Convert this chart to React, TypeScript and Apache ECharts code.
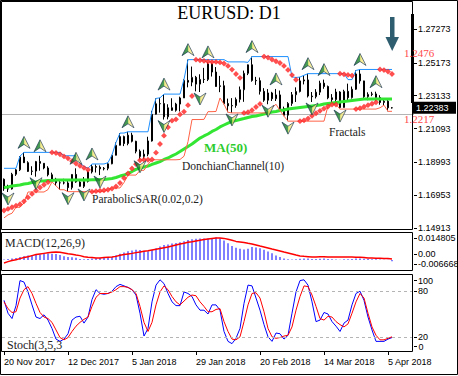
import React, { useEffect, useRef } from 'react';
import * as echarts from 'echarts';

const dates = [
  '20 Nov 2017','21 Nov 2017','22 Nov 2017','23 Nov 2017','24 Nov 2017','27 Nov 2017','28 Nov 2017','29 Nov 2017','30 Nov 2017',
  '1 Dec 2017','4 Dec 2017','5 Dec 2017','6 Dec 2017','7 Dec 2017','8 Dec 2017','11 Dec 2017','12 Dec 2017','13 Dec 2017','14 Dec 2017','15 Dec 2017','18 Dec 2017','19 Dec 2017','20 Dec 2017','21 Dec 2017','22 Dec 2017','26 Dec 2017','27 Dec 2017','28 Dec 2017','29 Dec 2017',
  '2 Jan 2018','3 Jan 2018','4 Jan 2018','5 Jan 2018','8 Jan 2018','9 Jan 2018','10 Jan 2018','11 Jan 2018','12 Jan 2018','15 Jan 2018','16 Jan 2018','17 Jan 2018','18 Jan 2018','19 Jan 2018','22 Jan 2018','23 Jan 2018','24 Jan 2018','25 Jan 2018','26 Jan 2018','29 Jan 2018','30 Jan 2018','31 Jan 2018',
  '1 Feb 2018','2 Feb 2018','5 Feb 2018','6 Feb 2018','7 Feb 2018','8 Feb 2018','9 Feb 2018','12 Feb 2018','13 Feb 2018','14 Feb 2018','15 Feb 2018','16 Feb 2018','19 Feb 2018','20 Feb 2018','21 Feb 2018','22 Feb 2018','23 Feb 2018','26 Feb 2018','27 Feb 2018','28 Feb 2018',
  '1 Mar 2018','2 Mar 2018','5 Mar 2018','6 Mar 2018','7 Mar 2018','8 Mar 2018','9 Mar 2018','12 Mar 2018','13 Mar 2018','14 Mar 2018','15 Mar 2018','16 Mar 2018','19 Mar 2018','20 Mar 2018','21 Mar 2018','22 Mar 2018','23 Mar 2018','26 Mar 2018','27 Mar 2018','28 Mar 2018','29 Mar 2018','30 Mar 2018',
  '2 Apr 2018','3 Apr 2018','4 Apr 2018','5 Apr 2018','6 Apr 2018'
];
// empty slots on the right (chart shift)
const padSlots = [' ', '  ', '   ', '    ', '     '];
const categories = dates.concat(padSlots);

const opens = [
  1.1794,1.1735,1.1734,1.1825,1.1853,1.1932,1.1897,1.1843,1.1845,1.1904,
  1.1893,1.1864,1.1822,1.1794,1.1772,1.1772,1.1771,1.1742,1.1824,1.1777,
  1.1750,1.1781,1.1840,1.1873,1.1869,1.1859,1.1862,1.1890,1.1943,1.2005,
  1.2059,1.2016,1.2068,1.2030,1.1968,1.1936,1.1950,1.2032,1.2198,1.2263,
  1.2264,1.2182,1.2238,1.2222,1.2261,1.2299,1.2408,1.2397,1.2427,1.2385,
  1.2414,1.2414,1.2510,1.2460,1.2370,1.2375,1.2264,1.2250,1.2252,1.2290,
  1.2350,1.2452,1.2505,1.2408,1.2406,1.2340,1.2285,1.2330,1.2294,1.2318,
  1.2233,1.2192,1.2265,1.2319,1.2339,1.2405,1.2411,1.2311,1.2307,1.2335,
  1.2391,1.2370,1.2300,1.2289,1.2336,1.2240,1.2340,1.2301,1.2353,1.2448,
  1.2405,1.2307,1.2321,1.2324,1.2302,1.2271,1.2279,1.2238
];
const highs = [
  1.1799,1.1760,1.1834,1.1858,1.1938,1.1961,1.1906,1.1875,1.1908,1.1940,
  1.1893,1.1875,1.1835,1.1803,1.1789,1.1797,1.1786,1.1826,1.1862,1.1792,
  1.1808,1.1850,1.1889,1.1887,1.1880,1.1870,1.1897,1.1945,1.2023,1.2081,
  1.2065,1.2089,1.2083,1.2033,1.1979,1.1978,1.2058,1.2219,1.2296,1.2300,
  1.2323,1.2260,1.2297,1.2269,1.2307,1.2415,1.2537,1.2494,1.2436,1.2446,
  1.2486,1.2523,1.2520,1.2491,1.2436,1.2406,1.2295,1.2298,1.2302,1.2370,
  1.2469,1.2507,1.2556,1.2430,1.2426,1.2360,1.2354,1.2337,1.2355,1.2345,
  1.2245,1.2273,1.2336,1.2365,1.2429,1.2440,1.2450,1.2336,1.2354,1.2406,
  1.2413,1.2376,1.2323,1.2356,1.2341,1.2350,1.2388,1.2370,1.2470,1.2476,
  1.2406,1.2334,1.2337,1.2338,1.2316,1.2292,1.2295,1.2242
];
const lows = [
  1.1722,1.1715,1.1730,1.1815,1.1845,1.1895,1.1840,1.1820,1.1810,1.1847,
  1.1856,1.1812,1.1778,1.1753,1.1729,1.1762,1.1717,1.1730,1.1772,1.1748,
  1.1740,1.1774,1.1830,1.1836,1.1820,1.1849,1.1850,1.1887,1.1942,1.2004,
  1.2000,1.2005,1.2023,1.1955,1.1915,1.1917,1.1937,1.2028,1.2196,1.2208,
  1.2165,1.2166,1.2220,1.2214,1.2215,1.2299,1.2365,1.2372,1.2340,1.2336,
  1.2392,1.2404,1.2432,1.2369,1.2335,1.2260,1.2210,1.2206,1.2238,1.2271,
  1.2275,1.2441,1.2400,1.2380,1.2320,1.2275,1.2260,1.2280,1.2280,1.2220,
  1.2186,1.2155,1.2250,1.2274,1.2333,1.2383,1.2302,1.2274,1.2296,1.2317,
  1.2356,1.2291,1.2258,1.2261,1.2230,1.2238,1.2281,1.2295,1.2349,1.2388,
  1.2298,1.2285,1.2310,1.2283,1.2257,1.2254,1.2216,1.2233
];
const closes = [
  1.1735,1.1734,1.1825,1.1853,1.1932,1.1897,1.1843,1.1845,1.1904,1.1893,
  1.1864,1.1822,1.1794,1.1772,1.1772,1.1771,1.1742,1.1824,1.1777,1.1750,
  1.1781,1.1840,1.1873,1.1869,1.1859,1.1862,1.1890,1.1943,1.2005,1.2059,
  1.2016,1.2068,1.2030,1.1968,1.1936,1.1950,1.2032,1.2198,1.2263,1.2264,
  1.2182,1.2238,1.2222,1.2261,1.2299,1.2408,1.2397,1.2427,1.2385,1.2414,
  1.2414,1.2510,1.2460,1.2370,1.2375,1.2264,1.2250,1.2252,1.2290,1.2350,
  1.2452,1.2505,1.2408,1.2406,1.2340,1.2285,1.2330,1.2294,1.2318,1.2233,
  1.2192,1.2265,1.2319,1.2339,1.2405,1.2411,1.2311,1.2307,1.2335,1.2391,
  1.2370,1.2300,1.2289,1.2336,1.2240,1.2340,1.2301,1.2353,1.2448,1.2405,
  1.2307,1.2321,1.2324,1.2302,1.2271,1.2279,1.2238,1.2238
];
const ma50 = [
  1.1743,1.1746,1.1752,1.1755,1.1758,1.1765,1.1768,1.1774,1.1777,1.1783,
  1.1783,1.1786,1.1786,1.1789,1.1789,1.1789,1.1790,1.1790,1.1789,1.1789,
  1.1790,1.1790,1.1791,1.1791,1.1792,1.1793,1.1796,1.1799,1.1805,1.1814,
  1.1820,1.1830,1.1842,1.1855,1.1864,1.1870,1.1876,1.1886,1.1895,1.1904,
  1.1917,1.1926,1.1939,1.1951,1.1966,1.1982,1.1998,1.2013,1.2032,1.2050,
  1.2063,1.2075,1.2091,1.2103,1.2119,1.2131,1.2143,1.2153,1.2159,1.2165,
  1.2171,1.2178,1.2184,1.2187,1.2193,1.2199,1.2206,1.2212,1.2215,1.2221,
  1.2224,1.2230,1.2234,1.2237,1.2240,1.2243,1.2246,1.2249,1.2252,1.2255,
  1.2261,1.2265,1.2268,1.2271,1.2274,1.2277,1.2280,1.2283,1.2286,1.2289,
  1.2292,1.2293,1.2293,1.2293,1.2293,1.2293,1.2293,1.2293
];
const donchianUpper = [
  1.1862,1.1862,1.1862,1.1862,1.1938,1.1961,1.1961,1.1961,1.1961,1.1961,
  1.1961,1.1961,1.1961,1.1961,1.1961,1.1940,1.1940,1.1940,1.1940,1.1893,
  1.1875,1.1862,1.1889,1.1889,1.1889,1.1889,1.1897,1.1945,1.2023,1.2081,
  1.2081,1.2089,1.2089,1.2089,1.2089,1.2089,1.2089,1.2219,1.2296,1.2300,
  1.2323,1.2323,1.2323,1.2323,1.2323,1.2415,1.2537,1.2537,1.2537,1.2537,
  1.2537,1.2537,1.2537,1.2537,1.2537,1.2537,1.2523,1.2523,1.2523,1.2523,
  1.2523,1.2520,1.2556,1.2556,1.2556,1.2556,1.2556,1.2556,1.2556,1.2556,
  1.2556,1.2556,1.2430,1.2426,1.2429,1.2440,1.2450,1.2450,1.2450,1.2450,
  1.2450,1.2450,1.2450,1.2450,1.2450,1.2450,1.2413,1.2413,1.2470,1.2476,
  1.2476,1.2476,1.2476,1.2476,1.2476,1.2476,1.2476,1.2476
];
const donchianLower = [
  1.1554,1.1573,1.1583,1.1620,1.1620,1.1647,1.1715,1.1715,1.1715,1.1715,
  1.1715,1.1730,1.1778,1.1753,1.1729,1.1729,1.1717,1.1717,1.1717,1.1717,
  1.1717,1.1717,1.1717,1.1717,1.1717,1.1717,1.1730,1.1740,1.1740,1.1740,
  1.1774,1.1820,1.1820,1.1820,1.1849,1.1850,1.1887,1.1915,1.1915,1.1915,
  1.1915,1.1915,1.1915,1.1915,1.1917,1.1937,1.2028,1.2165,1.2165,1.2165,
  1.2166,1.2214,1.2214,1.2215,1.2299,1.2260,1.2210,1.2206,1.2206,1.2206,
  1.2206,1.2206,1.2206,1.2206,1.2206,1.2206,1.2206,1.2238,1.2260,1.2220,
  1.2186,1.2155,1.2155,1.2155,1.2155,1.2155,1.2155,1.2155,1.2155,1.2155,
  1.2155,1.2250,1.2258,1.2258,1.2230,1.2230,1.2230,1.2230,1.2230,1.2230,
  1.2230,1.2230,1.2230,1.2230,1.2238,1.2254,1.2216,1.2216
];
const sar = [
  1.1600,1.1610,1.1620,1.1630,1.1639,1.1657,1.1681,1.1703,1.1724,1.1743,
  1.1760,1.1776,1.1961,1.1957,1.1949,1.1936,1.1924,1.1907,1.1892,1.1878,
  1.1865,1.1853,1.1717,1.1720,1.1723,1.1726,1.1729,1.1736,1.1749,1.1771,
  1.1802,1.1830,1.1861,1.1888,1.1912,1.1915,1.1915,1.1917,1.1959,1.2013,
  1.2065,1.2117,1.2158,1.2166,1.2197,1.2214,1.2254,1.2311,1.2537,1.2533,
  1.2529,1.2525,1.2523,1.2523,1.2520,1.2513,1.2498,1.2475,1.2448,1.2424,
  1.2206,1.2211,1.2223,1.2243,1.2262,1.2556,1.2550,1.2538,1.2527,1.2516,
  1.2498,1.2473,1.2441,1.2412,1.2155,1.2160,1.2171,1.2188,1.2204,1.2219,
  1.2233,1.2246,1.2258,1.2258,1.2450,1.2446,1.2442,1.2438,1.2230,1.2235,
  1.2245,1.2254,1.2263,1.2272,1.2476,1.2472,1.2463,1.2448
];
const fractalUpIdx = [5, 9, 18, 22, 31, 40, 46, 51, 62, 68, 76, 80, 89, 93];
const fractalDownIdx = [1, 8, 16, 20, 24, 34, 40, 49, 57, 66, 71, 77, 84];

const macdMain = [
  0.0003,0.0006,0.0009,0.0013,0.0020,0.0024,0.0029,0.0031,0.0034,0.0037,
  0.0040,0.0043,0.0042,0.0039,0.0033,0.0025,0.0020,0.0018,0.0014,0.0006,
  0.0004,0.0006,0.0009,0.0011,0.0013,0.0014,0.0016,0.0020,0.0031,0.0042,
  0.0049,0.0058,0.0064,0.0068,0.0066,0.0062,0.0058,0.0066,0.0078,0.0090,
  0.0100,0.0104,0.0110,0.0113,0.0118,0.0125,0.0133,0.0139,0.0142,0.0143,
  0.0144,0.0144,0.0147,0.0150,0.0145,0.0130,0.0112,0.0094,0.0082,0.0075,
  0.0070,0.0075,0.0086,0.0084,0.0078,0.0068,0.0056,0.0044,0.0030,0.0020,
  0.0010,0.0004,0.0003,0.0005,0.0008,0.0010,0.0009,0.0007,0.0006,0.0008,
  0.0009,0.0007,0.0004,0.0003,0.0002,0.0004,0.0005,0.0006,0.0009,0.0010,
  0.0008,0.0006,0.0005,0.0004,0.0003,0.0002,0.0001,-0.0009
];
const macdSignal = [
  -0.0020,-0.0011,-0.0004,0.0002,0.0009,0.0016,0.0022,0.0029,0.0036,0.0040,
  0.0044,0.0048,0.0051,0.0053,0.0051,0.0047,0.0042,0.0038,0.0033,0.0029,
  0.0022,0.0018,0.0016,0.0013,0.0013,0.0016,0.0018,0.0020,0.0024,0.0031,
  0.0036,0.0040,0.0044,0.0049,0.0053,0.0058,0.0062,0.0067,0.0071,0.0076,
  0.0082,0.0087,0.0093,0.0100,0.0107,0.0111,0.0118,0.0122,0.0127,0.0131,
  0.0136,0.0140,0.0144,0.0147,0.0147,0.0144,0.0138,0.0131,0.0124,0.0120,
  0.0116,0.0111,0.0107,0.0100,0.0093,0.0087,0.0080,0.0073,0.0067,0.0060,
  0.0053,0.0047,0.0040,0.0033,0.0027,0.0024,0.0022,0.0020,0.0020,0.0021,
  0.0021,0.0020,0.0020,0.0019,0.0020,0.0020,0.0020,0.0019,0.0018,0.0018,
  0.0016,0.0013,0.0013,0.0011,0.0011,0.0009,0.0009,0.0007
];
const stochK = [
  68,51,44,61,94,92,79,62,46,44,
  49,42,31,17,14,17,24,42,46,47,
  38,46,69,82,77,76,77,80,86,89,
  87,85,82,75,51,21,31,66,88,95,
  90,77,66,61,61,79,77,73,62,55,
  55,50,62,62,55,27,14,11,18,31,
  64,88,87,71,55,36,20,14,25,24,
  17,22,51,79,94,95,88,66,40,42,
  52,50,40,34,27,38,42,62,77,80,
  68,46,29,14,14,14,17,19
];
const stochD = [
  66,57,52,53,71,82,86,77,64,52,
  46,44,39,29,19,16,19,27,34,39,
  43,46,60,72,77,77,77,79,82,86,
  86,85,82,77,60,39,27,39,62,79,
  87,82,73,66,62,67,72,75,74,66,
  60,53,53,56,57,40,27,17,16,20,
  40,62,77,78,71,53,31,20,18,19,
  21,22,33,55,73,87,86,75,60,44,
  42,47,46,40,36,33,37,51,66,77,
  71,51,33,22,16,16,18,20
];

const priceTicks = [1.14913, 1.16953, 1.18993, 1.21093, 1.23133, 1.25173, 1.27273];
const macdTicks = [0.014805, 0, -0.006668];
const macdTickLabels = ['0.014805', '0.00', '-0.006668'];
const stochTicks = [100, 80, 20, 0];
const stochTickLabels = ['100', '80', '20', '0'];
const stochLevels = [20, 80];
const lastPrice = 1.22383;
const levelValues = [1.2476, 1.2217];
const levelLabels = ['1.2476', '1.2217'];
const dateTickIdx = [0, 16, 32, 48, 64, 80, 96];

const SANS = 'Liberation Sans';
const SERIF = 'Liberation Serif';

export default function App() {
  const ref = useRef<HTMLDivElement>(null);

  useEffect(() => {
    if (!ref.current) return;
    const chart = echarts.init(ref.current, undefined, { renderer: 'svg' });

    const GL = 2;
    const GW = 412;
    const mainMin = 1.14789;
    const mainMax = 1.29012;
    const macdMin = -0.0067;
    const macdMax = 0.018667;
    const macdH = 38;
    const stochTop = 276;
    const stochH = 76;

    // labels near the pane edges are nudged inside the pane (px, positive = up)
    const macdShift = [0, 5.5, 5.5];
    const stochShift = [-4.5, 0, 0, 5.5];
    const macdAnchors = macdTicks.map((v, k) => v + (macdShift[k] * (macdMax - macdMin)) / macdH);
    const stochAnchors = stochTicks.map((v, k) => v + (stochShift[k] * 100) / stochH);
    // the bottom stoch label sits in the pane corner; it is drawn as a graphic text
    const stochAxisIdx = [0, 1, 2];
    const stochCornerIdx = 3;
    const stochCornerY = stochTop + ((100 - stochAnchors[stochCornerIdx]) / 100) * stochH;

    const lbl = { fontSize: 9, fontFamily: SANS, color: '#000' };
    const gridBase = { left: GL, width: GW, containLabel: false, outerBoundsMode: 'none', show: false };

    const fracGrad = new echarts.graphic.LinearGradient(0, 0, 1, 0, [
      { offset: 0, color: '#0e6a1e' },
      { offset: 0.5, color: '#1f8a2c' },
      { offset: 0.55, color: '#f2e46a' },
      { offset: 1, color: '#fbf3b0' },
    ]);

    const hiddenX = (gi: number) => ({
      gridIndex: gi,
      type: 'category',
      data: categories,
      boundaryGap: true,
      show: false,
    });

    const findIdx = (arr: number[], v: number) => arr.findIndex((t) => Math.abs(t - v) < 1e-9);

    const option: any = {
      animation: false,
      backgroundColor: '#ffffff',
      title: {
        text: 'EURUSD: D1',
        left: 'center',
        top: 4,
        padding: 0,
        textStyle: { fontFamily: SERIF, fontSize: 18, fontWeight: 'normal', color: '#000' },
      },
      grid: [
        { ...gridBase, top: 1, height: 229 },
        { ...gridBase, top: 232, height: macdH },
        { ...gridBase, top: stochTop, height: stochH },
      ],
      xAxis: [
        hiddenX(0),
        hiddenX(1),
        {
          gridIndex: 2,
          type: 'category',
          data: categories,
          boundaryGap: true,
          axisLine: { show: false },
          splitLine: { show: false },
          axisTick: {
            show: true,
            alignWithLabel: true,
            length: 3,
            interval: (i: number) => dateTickIdx.includes(i),
            lineStyle: { color: '#000' },
          },
          axisLabel: {
            ...lbl,
            show: true,
            align: 'left',
            margin: 5,
            interval: (i: number) => dateTickIdx.includes(i),
          },
        },
      ],
      yAxis: [
        {
          gridIndex: 0,
          type: 'value',
          position: 'right',
          min: mainMin,
          max: mainMax,
          axisLine: { show: false },
          splitLine: { show: false },
          axisTick: { show: true, length: 3, lineStyle: { color: '#000' }, customValues: priceTicks },
          axisLabel: { ...lbl, show: true, margin: 4, customValues: priceTicks, formatter: (v: number) => v.toFixed(5) },
        },
        {
          gridIndex: 1,
          type: 'value',
          position: 'right',
          min: macdMin,
          max: macdMax,
          axisLine: { show: false },
          splitLine: { show: false },
          axisTick: { show: true, length: 3, lineStyle: { color: '#000' }, customValues: macdAnchors },
          axisLabel: {
            ...lbl,
            lineHeight: 9,
            show: true,
            margin: 4,
            showMinLabel: true,
            showMaxLabel: true,
            customValues: macdAnchors,
            formatter: (v: number) => {
              const k = findIdx(macdAnchors, v);
              return k >= 0 ? macdTickLabels[k] : '';
            },
          },
        },
        {
          gridIndex: 2,
          type: 'value',
          position: 'right',
          min: 0,
          max: 100,
          axisLine: { show: false },
          splitLine: { show: false },
          axisTick: { show: true, length: 3, lineStyle: { color: '#000' }, customValues: stochAnchors },
          axisLabel: {
            ...lbl,
            lineHeight: 9,
            show: true,
            margin: 4,
            showMinLabel: true,
            showMaxLabel: true,
            customValues: stochAxisIdx.map((k) => stochAnchors[k]),
            formatter: (v: number) => {
              const k = findIdx(stochAnchors, v);
              return k >= 0 ? stochTickLabels[k] : '';
            },
          },
        },
      ],
      series: [
        {
          name: 'EURUSD',
          type: 'candlestick',
          xAxisIndex: 0,
          yAxisIndex: 0,
          barWidth: 2,
          data: dates.map((_, i) => [opens[i], closes[i], lows[i], highs[i]]),
          itemStyle: {
            color: '#ffffff',
            color0: '#000000',
            borderColor: '#000000',
            borderColor0: '#000000',
            borderWidth: 1,
          },
          markLine: {
            silent: true,
            z: 1,
            symbol: ['none', 'none'],
            lineStyle: { color: '#b4b4b4', width: 1, type: 'solid' },
            label: { show: false },
            data: [{ yAxis: lastPrice }],
          },
        },
        {
          name: 'MA(50)',
          type: 'line',
          xAxisIndex: 0,
          yAxisIndex: 0,
          data: ma50,
          symbol: 'none',
          lineStyle: { color: '#33e633', width: 3 },
          z: 3,
        },
        {
          name: 'DonchianUpper',
          type: 'line',
          xAxisIndex: 0,
          yAxisIndex: 0,
          data: donchianUpper,
          symbol: 'none',
          lineStyle: { color: '#1e90ff', width: 1 },
        },
        {
          name: 'DonchianLower',
          type: 'line',
          xAxisIndex: 0,
          yAxisIndex: 0,
          data: donchianLower,
          symbol: 'none',
          lineStyle: { color: '#ff6347', width: 1 },
        },
        {
          name: 'SAR',
          type: 'scatter',
          xAxisIndex: 0,
          yAxisIndex: 0,
          data: sar.map((v, i) => [i, v]),
          symbol: 'emptyDiamond',
          symbolSize: 3,
          itemStyle: { color: '#ff2020', borderWidth: 0.6 },
          z: 4,
        },
        {
          name: 'FractalUp',
          type: 'scatter',
          xAxisIndex: 0,
          yAxisIndex: 0,
          data: fractalUpIdx.map((i) => [i, highs[i]]),
          symbol: 'path://M6,0L12,12L6,8L0,12Z',
          symbolSize: [12, 12],
          symbolOffset: [0, -10],
          itemStyle: { color: fracGrad, borderColor: '#15304d', borderWidth: 0.8 },
          z: 5,
        },
        {
          name: 'FractalDown',
          type: 'scatter',
          xAxisIndex: 0,
          yAxisIndex: 0,
          data: fractalDownIdx.map((i) => [i, lows[i]]),
          symbol: 'path://M0,0L6,4L12,0L6,12Z',
          symbolSize: [12, 12],
          symbolOffset: [0, 7],
          itemStyle: { color: fracGrad, borderColor: '#15304d', borderWidth: 0.8 },
          z: 5,
        },
        {
          name: 'MACD',
          type: 'bar',
          xAxisIndex: 1,
          yAxisIndex: 1,
          data: macdMain,
          barWidth: 1,
          itemStyle: { color: '#0000ff' },
        },
        {
          name: 'Signal',
          type: 'line',
          xAxisIndex: 1,
          yAxisIndex: 1,
          data: macdSignal,
          symbol: 'none',
          lineStyle: { color: '#ff0000', width: 1.5 },
        },
        {
          name: '%K',
          type: 'line',
          xAxisIndex: 2,
          yAxisIndex: 2,
          data: stochK,
          symbol: 'none',
          lineStyle: { color: '#0000ff', width: 1 },
          markLine: {
            silent: true,
            symbol: ['none', 'none'],
            label: { show: false },
            lineStyle: { color: '#b4b4b4', width: 1, type: [3, 3] },
            data: stochLevels.map((v) => ({ yAxis: v })),
          },
        },
        {
          name: '%D',
          type: 'line',
          xAxisIndex: 2,
          yAxisIndex: 2,
          data: stochD,
          symbol: 'none',
          lineStyle: { color: '#ff0000', width: 1 },
        },
      ],
      graphic: {
        elements: [
          { type: 'rect', silent: true, z: 50, shape: { x: 0.5, y: 0.5, width: 457, height: 374 }, style: { fill: 'none', stroke: '#000', lineWidth: 1 } },
          { type: 'rect', silent: true, z: 50, shape: { x: 1.5, y: 1.5, width: 411, height: 228 }, style: { fill: 'none', stroke: '#000', lineWidth: 1 } },
          { type: 'rect', silent: true, z: 50, shape: { x: 1.5, y: 232.5, width: 411, height: 38 }, style: { fill: 'none', stroke: '#000', lineWidth: 1 } },
          { type: 'rect', silent: true, z: 50, shape: { x: 1.5, y: 274.5, width: 411, height: 77 }, style: { fill: 'none', stroke: '#000', lineWidth: 1 } },
          { type: 'rect', silent: true, z: 50, shape: { x: 411, y: 14, width: 3, height: 89 }, style: { fill: '#000' } },
          { type: 'rect', silent: true, z: 50, shape: { x: 390, y: 17, width: 4.5, height: 22 }, style: { fill: '#2d5d6e' } },
          { type: 'polygon', silent: true, z: 50, shape: { points: [[385.5, 37], [399, 37], [392.2, 51]] }, style: { fill: '#2d5d6e' } },
          { type: 'text', silent: true, z: 50, x: 204, y: 147, style: { text: 'MA(50)', fill: '#2ccc2c', font: 'bold 13px "Liberation Serif"', verticalAlign: 'middle' } },
          { type: 'text', silent: true, z: 50, x: 182, y: 166, style: { text: 'DonchianChannel(10)', fill: '#222', font: '11.5px "Liberation Serif"', verticalAlign: 'middle' } },
          { type: 'text', silent: true, z: 50, x: 92, y: 199, style: { text: 'ParabolicSAR(0.02,0.2)', fill: '#222', font: '11.5px "Liberation Serif"', verticalAlign: 'middle' } },
          { type: 'text', silent: true, z: 50, x: 329, y: 132, style: { text: 'Fractals', fill: '#222', font: '11.5px "Liberation Serif"', verticalAlign: 'middle' } },
          { type: 'text', silent: true, z: 50, x: 5, y: 243, style: { text: 'MACD(12,26,9)', fill: '#222', font: '12px "Liberation Serif"', verticalAlign: 'middle' } },
          { type: 'text', silent: true, z: 50, x: 7, y: 345, style: { text: 'Stoch(3,5,3', fill: '#222', font: '12px "Liberation Serif"', verticalAlign: 'middle' } },
          { type: 'text', silent: true, z: 61, x: 418.5, y: stochCornerY, style: { text: stochTickLabels[stochCornerIdx], fill: '#000', font: '9px "Liberation Sans"', verticalAlign: 'middle' } },
        ],
      },
    };

    chart.setOption(option);

    // current price box and support / resistance captions, placed from their price values
    const py = chart.convertToPixel({ yAxisIndex: 0 }, lastPrice) as number;
    const levelShift = [-16.5, 7.5];
    const extra: any[] = [
      { type: 'rect', id: 'pxbox', silent: true, z: 60, shape: { x: 413, y: py - 6, width: 43, height: 12 }, style: { fill: '#000' } },
      {
        type: 'text', id: 'pxtxt', silent: true, z: 61, x: 416, y: py,
        style: { text: lastPrice.toFixed(5), fill: '#fff', font: '9px "Liberation Sans"', verticalAlign: 'middle' },
      },
    ];
    levelValues.forEach((v, k) => {
      const y = chart.convertToPixel({ yAxisIndex: 0 }, v) as number;
      extra.push({
        type: 'text',
        id: 'level' + k,
        silent: true,
        z: 62,
        x: 404,
        y: y + levelShift[k],
        style: { text: levelLabels[k], fill: '#ff4a4a', font: '11px "Liberation Serif"', verticalAlign: 'middle' },
      });
    });
    chart.setOption({ graphic: { elements: extra } });

    return () => chart.dispose();
  }, []);

  return (
    <div
      ref={ref}
      style={{ position: 'fixed', left: 0, top: 0, width: 458, height: 376, background: '#fff' }}
    />
  );
}
